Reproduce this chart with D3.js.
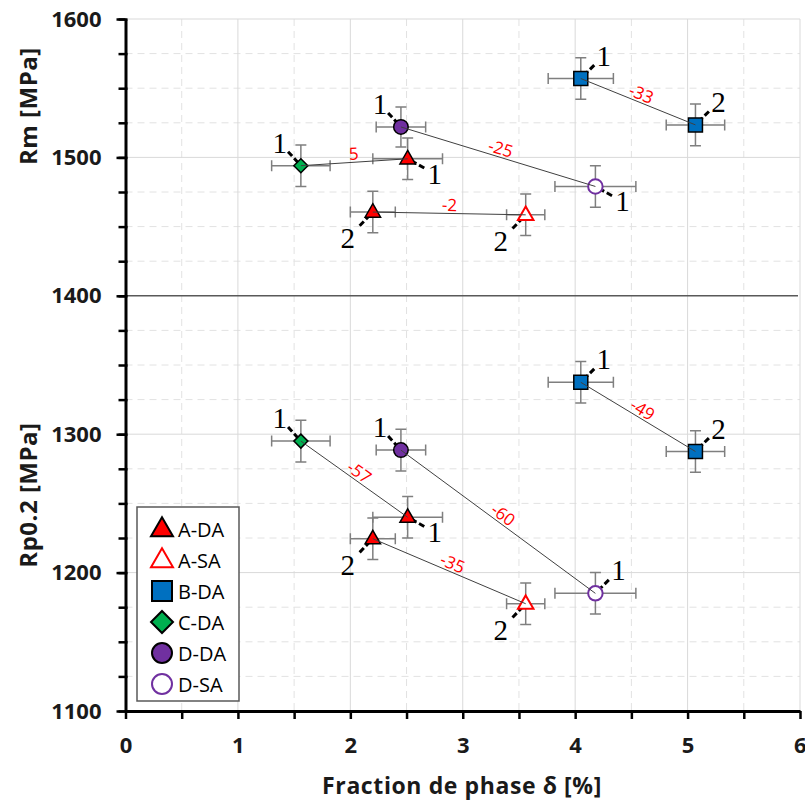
<!DOCTYPE html>
<html><head><meta charset="utf-8">
<script src="https://cdn.jsdelivr.net/npm/d3@7"></script>
<style>body{margin:0;background:#fff}svg{display:block}</style>
</head><body>
<svg id="chart" width="805" height="802"></svg>
<script>
// ---- data ----
const seriesNames = ["A-DA", "A-SA", "B-DA", "C-DA", "D-DA", "D-SA"];
const seriesFill = ["#FF0000", "#FFFFFF", "#0070C0", "#00B050", "#7030A0", "#FFFFFF"];
const seriesStroke = ["#000000", "#FF0000", "#000000", "#000000", "#000000", "#7030A0"];
const seriesShape = ["triangle", "triangle", "square", "diamond", "circle", "circle"];

// points (top panel: Rm, bottom panel: Rp0.2)
const pointSeries = ["C-DA","A-DA","A-DA","A-SA","D-DA","D-SA","B-DA","B-DA",
                     "C-DA","D-DA","A-DA","A-DA","A-SA","D-SA","B-DA","B-DA"];
const pointX    = [1.56, 2.51, 2.20, 3.56, 2.45, 4.18, 4.05, 5.07,
                   1.56, 2.45, 2.51, 2.20, 3.56, 4.18, 4.05, 5.07];
const pointY    = [1494, 1499, 1460.5, 1458.5, 1522, 1479, 1557, 1523.5,
                   1295, 1288.5, 1240, 1224.5, 1177.5, 1185, 1337.5, 1287.5];
const pointXErr = [0.26, 0.31, 0.20, 0.17, 0.22, 0.36, 0.29, 0.26,
                   0.26, 0.22, 0.31, 0.20, 0.17, 0.36, 0.29, 0.26];
const pointYErr = [15, 15, 15, 15, 14.5, 15, 15, 15,
                   15, 15, 15, 15, 15, 15, 15, 15];
const pointTag  = ["1","1","2","2","1","1","1","2",
                   "1","1","1","2","2","1","1","2"];
const pointTagSide = ["ul","lr","ll","ll","ul","lr","ur","ur",
                      "ul","ul","lr","ll","ll","ur","ur","ur"];

// connections between points with change labels
const linkFrom  = [0, 2, 4, 6, 8, 11, 9, 14];
const linkTo    = [1, 3, 5, 7, 10, 12, 13, 15];
const linkLabel = ["5", "-2", "-25", "-33", "-57", "-35", "-60", "-49"];

const xTicks = [0, 1, 2, 3, 4, 5, 6];
const yTicks = [1100, 1200, 1300, 1400, 1500, 1600];
const xTitle = "Fraction de phase δ [%]";
const yTitleTop = "Rm [MPa]";
const yTitleBottom = "Rp0.2 [MPa]";

// ---- drawing ----
const svg = d3.select("#chart");
const x = d3.scaleLinear().domain([0, 6]).range([125.5, 800]);
const y = d3.scaleLinear().domain([1100, 1600]).range([711, 19]);
const sIdx = n => seriesNames.indexOf(n);

const xMinor = d3.range(0.5, 6, 1);
const yMinor = d3.range(1100, 1601, 25).filter(v => v % 100 !== 0);
const yMinorAll = d3.range(1100, 1601, 25);

// grid
const grid = svg.append("g");
grid.selectAll(".gxm").data(xMinor).join("line")
  .attr("x1", d => x(d)).attr("x2", d => x(d)).attr("y1", y(1600)).attr("y2", y(1100))
  .attr("stroke", "#e2e2e2").attr("stroke-width", 1).attr("stroke-dasharray", "7,5");
grid.selectAll(".gym").data(yMinor).join("line")
  .attr("x1", x(0)).attr("x2", x(6)).attr("y1", d => y(d)).attr("y2", d => y(d))
  .attr("stroke", "#e2e2e2").attr("stroke-width", 1).attr("stroke-dasharray", "7,5");
grid.selectAll(".gx").data(xTicks.slice(1)).join("line")
  .attr("x1", d => x(d)).attr("x2", d => x(d)).attr("y1", y(1600)).attr("y2", y(1100))
  .attr("stroke", "#d9d9d9").attr("stroke-width", 1);
grid.selectAll(".gy").data(yTicks.filter(v => v !== 1100 && v !== 1400)).join("line")
  .attr("x1", x(0)).attr("x2", x(6)).attr("y1", d => y(d)).attr("y2", d => y(d))
  .attr("stroke", "#d9d9d9").attr("stroke-width", 1);
// separator at 1400
svg.append("line").attr("x1", x(0)).attr("x2", x(6) - 2).attr("y1", y(1400)).attr("y2", y(1400))
  .attr("stroke", "#595959").attr("stroke-width", 1.5);

const pts = pointX.map((v, i) => ({
  i, x: v, y: pointY[i], xe: pointXErr[i], ye: pointYErr[i],
  s: sIdx(pointSeries[i]), tag: pointTag[i], side: pointTagSide[i]
}));

// error bars
const eb = svg.append("g").attr("stroke", "#7f7f7f").attr("stroke-width", 1.5).attr("fill", "none");
const cap = 5.5;
pts.forEach(p => {
  const cx = x(p.x), cy = y(p.y);
  const x0 = x(p.x - p.xe), x1 = x(p.x + p.xe), y0 = y(p.y - p.ye), y1 = y(p.y + p.ye);
  eb.append("path").attr("d",
    `M${x0},${cy}H${x1}M${x0},${cy-cap}V${cy+cap}M${x1},${cy-cap}V${cy+cap}` +
    `M${cx},${y0}V${y1}M${cx-cap},${y0}H${cx+cap}M${cx-cap},${y1}H${cx+cap}`);
});

// tag label offsets
const sideOff = { ul: [-21, -23], ur: [23, -23], lr: [27, 15], ll: [-25, 26] };

// leader lines
const lead = svg.append("g").attr("stroke", "#000").attr("stroke-width", 3).attr("stroke-dasharray", "6,3");
pts.forEach(p => {
  const cx = x(p.x), cy = y(p.y);
  const [dx, dy] = sideOff[p.side];
  const L = Math.hypot(dx, dy), ux = dx / L, uy = dy / L;
  lead.append("line").attr("x1", cx + ux * 4).attr("y1", cy + uy * 4)
    .attr("x2", cx + ux * 21).attr("y2", cy + uy * 21);
});

// marker path
function shapePath(shape, size) {
  const h = size / 2;
  if (shape === "triangle") {
    const hh = size * 0.87;
    return `M0,${-hh*0.62}L${h},${hh*0.38}L${-h},${hh*0.38}Z`;
  }
  if (shape === "square") return `M${-h},${-h}H${h}V${h}H${-h}Z`;
  if (shape === "diamond") return `M0,${-h}L${h},0L0,${h}L${-h},0Z`;
  return d3.arc()({ innerRadius: 0, outerRadius: h, startAngle: 0, endAngle: 2 * Math.PI });
}
const chartSize = { triangle: 15.5, square: 14, diamond: 14, circle: 14.5 };
const legendSize = { triangle: 22, square: 20, diamond: 22, circle: 20 };

const mk = svg.append("g");
pts.forEach(p => {
  const sh = seriesShape[p.s];
  const open = seriesFill[p.s] === "#FFFFFF";
  mk.append("path").attr("d", shapePath(sh, chartSize[sh]))
    .attr("transform", `translate(${x(p.x)},${y(p.y)})`)
    .attr("fill", seriesFill[p.s]).attr("stroke", seriesStroke[p.s])
    .attr("stroke-width", open ? 2 : 1.5).attr("stroke-linejoin", "miter");
});

// connecting lines
const lk = svg.append("g");
linkFrom.forEach((a, k) => {
  const b = linkTo[k];
  const ax = x(pointX[a]), ay = y(pointY[a]), bx = x(pointX[b]), by = y(pointY[b]);
  lk.append("line").attr("x1", ax).attr("y1", ay).attr("x2", bx).attr("y2", by)
    .attr("stroke", "#404040").attr("stroke-width", 1);
  const ang = Math.atan2(by - ay, bx - ax);
  const mx = (ax + bx) / 2 + Math.sin(ang) * 9, my = (ay + by) / 2 - Math.cos(ang) * 9;
  lk.append("text").text(linkLabel[k])
    .attr("transform", `translate(${mx},${my}) rotate(${ang * 180 / Math.PI})`)
    .attr("text-anchor", "middle").attr("dominant-baseline", "central")
    .attr("font-family", "'Open Sans', sans-serif").attr("font-size", 17)
    .attr("fill", "#FF0000");
});

// tag labels
const tg = svg.append("g");
pts.forEach(p => {
  const [dx, dy] = sideOff[p.side];
  tg.append("text").text(p.tag)
    .attr("x", x(p.x) + dx).attr("y", y(p.y) + dy)
    .attr("text-anchor", "middle").attr("dominant-baseline", "central")
    .attr("font-family", "'Liberation Serif', 'Times New Roman', serif").attr("font-size", 29)
    .attr("fill", "#000");
});

// axes
const tickFont = g => g.selectAll("text")
  .attr("font-family", "'Open Sans', sans-serif").attr("font-size", 22)
  .attr("font-weight", "bold").attr("fill", "#1a1a1a");

const yAxisMinor = svg.append("g").attr("transform", `translate(${x(0) + 2},0)`)
  .call(d3.axisLeft(y).tickValues(yMinorAll).tickSize(9).tickSizeOuter(0).tickFormat(""));
yAxisMinor.select(".domain").remove();
yAxisMinor.selectAll("line").attr("stroke", "#000").attr("stroke-width", 2.5);

const yAxis = svg.append("g").attr("transform", `translate(${x(0)},0)`)
  .call(d3.axisLeft(y).tickValues(yTicks).tickSize(9).tickSizeOuter(0).tickPadding(15).tickFormat(d3.format("d")))
  .call(tickFont);
yAxis.select(".domain").attr("stroke", "#000").attr("stroke-width", 3);
yAxis.selectAll("line").attr("stroke", "#000").attr("stroke-width", 2.5);

const xAxis = svg.append("g").attr("transform", `translate(0,${y(1100)})`)
  .call(d3.axisBottom(x).tickValues(d3.range(0, 6.01, 0.5)).tickSize(8).tickSizeOuter(0).tickPadding(18)
    .tickFormat(d => Number.isInteger(d) ? d : ""))
  .call(tickFont);
xAxis.select(".domain").attr("stroke", "#000").attr("stroke-width", 3);
xAxis.selectAll("line").attr("stroke", "#000").attr("stroke-width", 2.5);
// keep the last label inside the page
xAxis.selectAll(".tick text").filter(d => d === 6).attr("text-anchor", "end").attr("dx", 6);

// titles
const titleFont = s => s.attr("font-family", "'Open Sans', sans-serif").attr("font-weight", "bold")
  .attr("fill", "#1a1a1a").attr("text-anchor", "middle").attr("dominant-baseline", "central");
svg.append("text").text(xTitle).attr("x", 462).attr("y", 785).attr("font-size", 23)
  .attr("letter-spacing", 0.6).call(titleFont);
svg.append("text").text(yTitleTop).attr("transform", `translate(27,${y(1537)}) rotate(-90)`)
  .attr("font-size", 24).attr("letter-spacing", 0.5).call(titleFont);
svg.append("text").text(yTitleBottom).attr("transform", `translate(27,${y(1256)}) rotate(-90)`)
  .attr("font-size", 24).attr("letter-spacing", 0.5).call(titleFont);

// legend
const lg = svg.append("g");
lg.append("rect").attr("x", 137).attr("y", 507).attr("width", 102).attr("height", 194)
  .attr("fill", "#fff").attr("stroke", "#595959").attr("stroke-width", 1.5);
seriesNames.forEach((n, i) => {
  const cy = 529 + i * 31;
  const sh = seriesShape[i];
  lg.append("path").attr("d", shapePath(sh, legendSize[sh]))
    .attr("transform", `translate(162,${cy})`)
    .attr("fill", seriesFill[i]).attr("stroke", seriesStroke[i]).attr("stroke-width", 2);
  lg.append("text").text(n).attr("x", 178).attr("y", cy).attr("dominant-baseline", "central")
    .attr("font-family", "'Open Sans', sans-serif").attr("font-size", 20).attr("fill", "#000");
});
</script>
</body></html>
